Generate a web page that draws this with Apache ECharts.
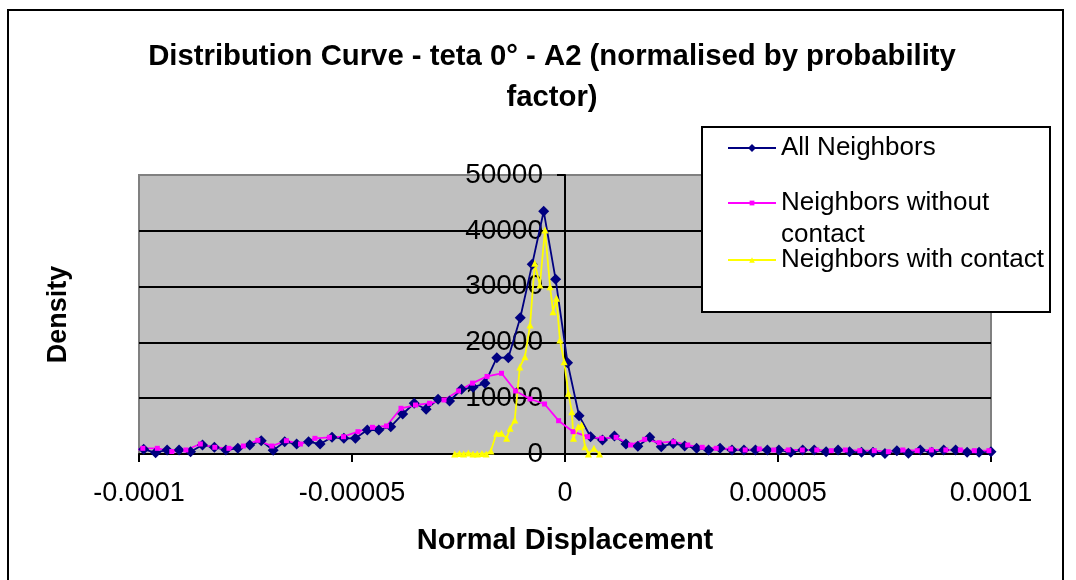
<!DOCTYPE html>
<html><head><meta charset="utf-8">
<script src="https://cdn.jsdelivr.net/npm/echarts@6/dist/echarts.min.js"></script>
<style>html,body{margin:0;padding:0;background:#fff}#c{width:1076px;height:580px}</style>
</head><body><div id="c"></div>
<script>
// ---- data (x in units of 1e-6, i.e. micro) ----
const xTickLabels = ['-0.0001', '-0.00005', '0', '0.00005', '0.0001'];

const allX = [-98.9,-96.1,-93.4,-90.6,-87.9,-85.1,-82.3,-79.6,-76.8,-74.0,
  -71.3,-68.5,-65.8,-63.0,-60.2,-57.5,-54.7,-51.9,-49.2,-46.4,
  -43.7,-40.9,-38.1,-35.4,-32.6,-29.8,-27.1,-24.3,-21.6,-18.8,
  -16.0,-13.3,-10.5,-7.7,-5.0,-2.2,0.6,3.3,6.0,8.8,
  11.6,14.3,17.1,19.9,22.6,25.4,28.1,30.9,33.7,36.4,
  39.2,42.0,44.7,47.5,50.2,53.0,55.8,58.5,61.3,64.1,
  66.8,69.6,72.3,75.1,77.9,80.6,83.4,86.1,88.9,91.7,
  94.4,97.2,100.0];
const allY = [840,230,720,720,410,1610,1200,720,1020,1610,
  2380,650,2200,1790,2200,1790,2990,2810,2810,4300,
  4300,4890,7170,9090,8010,9800,9500,11600,11950,12670,
  17260,17260,24430,34000,43500,31300,16360,6850,3100,2510,
  3230,1790,1380,3000,1310,1900,1450,1020,720,1020,
  720,720,720,720,720,300,720,720,410,720,
  410,300,300,100,600,120,720,300,720,720,
  300,300,410];

const withoutX = [-102.4,-99.1,-95.7,-92.3,-89.0,-85.6,-82.2,-78.9,-75.5,-72.1,
  -68.8,-65.4,-62.1,-58.7,-55.3,-52.0,-48.6,-45.2,-41.9,-38.5,
  -35.1,-31.8,-28.4,-25.0,-21.7,-18.3,-14.9,-11.6,-8.2,-4.8,
  -1.5,1.9,5.3,8.6,12.0,15.4,18.7,22.1,25.5,28.8,
  32.2,35.5,38.9,42.3,45.6,49.0,52.4,55.7,59.1,62.5,
  65.8,69.2,72.6,75.9,79.3,82.7,86.0,89.4,92.8,96.1,
  99.5,102.8];
const withoutY = [400,1020,1020,450,720,1790,1200,1020,1430,2450,
  1430,2380,1790,2810,2990,3100,4000,4780,5020,8190,
  8780,9090,9680,11300,12700,13900,14460,11290,9860,8960,
  5970,4000,3100,2810,2990,1610,2630,2030,2200,1610,
  1200,1020,900,720,900,720,720,720,720,600,
  720,600,600,410,720,600,720,720,720,600,
  600,600];

const withX = [-25.9,-24.8,-23.8,-22.7,-21.6,-20.6,-19.5,-18.5,-17.4,-16.1,
  -14.9,-13.7,-12.9,-11.8,-10.6,-9.4,-8.2,-7.1,-5.9,-4.7,
  -3.5,-2.8,-2.0,-1.2,-0.2,0.8,1.6,2.0,3.1,3.9,
  4.7,5.5,6.8,8.1];
const withY = [0,100,0,200,0,0,100,0,540,3710,
  3710,2810,4600,6090,15590,17440,23120,34170,30290,40140,
  29980,25500,27900,20430,16540,10880,7580,2810,4890,5200,
  1310,0,1020,0];

const seriesNames = ['All Neighbors', 'Neighbors without contact', 'Neighbors with contact'];

// ---- chart ----
const FONT = "'Liberation Sans', Arial, sans-serif";
const zip = (xs, ys) => xs.map((x, i) => [x, ys[i]]);
const chart = echarts.init(document.getElementById('c'), null, {renderer: 'canvas'});

const option = {
  animation: false,
  backgroundColor: '#ffffff',
  textStyle: {fontFamily: FONT, color: '#000'},
  title: {
    text: 'Distribution Curve - teta 0° - A2 (normalised by probability\nfactor)',
    left: 547, top: 31, textAlign: 'center',
    textStyle: {fontSize: 29.3, fontWeight: 'bold', color: '#000', lineHeight: 41, fontFamily: FONT}
  },
  grid: {
    left: 139, right: 85, top: 175, bottom: 126,
    containLabel: false, outerBoundsMode: 'none',
    show: true, backgroundColor: '#C0C0C0', borderColor: '#808080', borderWidth: 2
  },
  xAxis: {
    type: 'value', min: -100, max: 100, interval: 50,
    axisLine: {onZero: false, lineStyle: {color: '#000', width: 2}},
    axisTick: {show: true, length: 8, lineStyle: {color: '#000', width: 2}},
    axisLabel: {
      fontSize: 27, color: '#000', margin: 26, fontFamily: FONT,
      formatter: v => xTickLabels[Math.round((v + 100) / 50)]
    },
    splitLine: {show: false},
    name: 'Normal Displacement', nameLocation: 'middle', nameGap: 72,
    nameTextStyle: {fontSize: 29, fontWeight: 'bold', color: '#000', fontFamily: FONT}
  },
  yAxis: {
    type: 'value', min: 0, max: 50000, interval: 10000,
    offset: -426,
    axisLine: {show: true, onZero: false, lineStyle: {color: '#000', width: 2}},
    axisTick: {show: true, length: 8, lineStyle: {color: '#000', width: 2}},
    axisLabel: {fontSize: 28, color: '#000', margin: 22, fontFamily: FONT, formatter: v => String(v)},
    splitLine: {show: true, lineStyle: {color: ['#000', '#000', '#000', '#000', '#000', '#808080'], width: 2}},
    name: 'Density', nameLocation: 'middle', nameGap: 493, nameRotate: 90,
    nameTextStyle: {fontSize: 27, fontWeight: 'bold', color: '#000', fontFamily: FONT}
  },
  legend: [
    {left: 722, top: 130, itemWidth: 48, itemHeight: 10, padding: 5,
     textStyle: {fontSize: 26, color: '#000', fontFamily: FONT},
     data: [seriesNames[0]]},
    {left: 722, top: 150, itemWidth: 48, itemHeight: 6, padding: 5,
     formatter: () => '\nNeighbors without\ncontact',
     textStyle: {fontSize: 26, color: '#000', fontFamily: FONT, lineHeight: 32},
     data: [seriesNames[1]]},
    {left: 722, top: 242, itemWidth: 48, itemHeight: 7, padding: 5,
     textStyle: {fontSize: 26, color: '#000', fontFamily: FONT},
     data: [seriesNames[2]]}
  ],
  graphic: {
    elements: [
      {type: 'rect', z: 3, shape: {x: 702, y: 127, width: 348, height: 185},
       style: {fill: '#fff', stroke: '#000', lineWidth: 2}},
      {type: 'rect', z: 0, silent: true, shape: {x: 8, y: 10, width: 1055, height: 600},
       style: {fill: 'none', stroke: '#000', lineWidth: 2}}
    ]
  },
  series: [
    {type: 'line', name: seriesNames[0], data: zip(allX, allY),
     symbol: 'diamond', symbolSize: 11, showAllSymbol: true, clip: true,
     itemStyle: {color: '#000080'}, lineStyle: {color: '#000080', width: 1.8}},
    {type: 'line', name: seriesNames[1], data: zip(withoutX, withoutY),
     symbol: 'rect', symbolSize: 5, showAllSymbol: true, clip: true,
     itemStyle: {color: '#FF00FF'}, lineStyle: {color: '#FF00FF', width: 1.8}},
    {type: 'line', name: seriesNames[2], data: zip(withX, withY),
     symbol: 'triangle', symbolSize: 7, showAllSymbol: true, clip: true,
     itemStyle: {color: '#FFFF00'}, lineStyle: {color: '#FFFF00', width: 1.8}}
  ]
};
chart.setOption(option);
</script></body></html>
